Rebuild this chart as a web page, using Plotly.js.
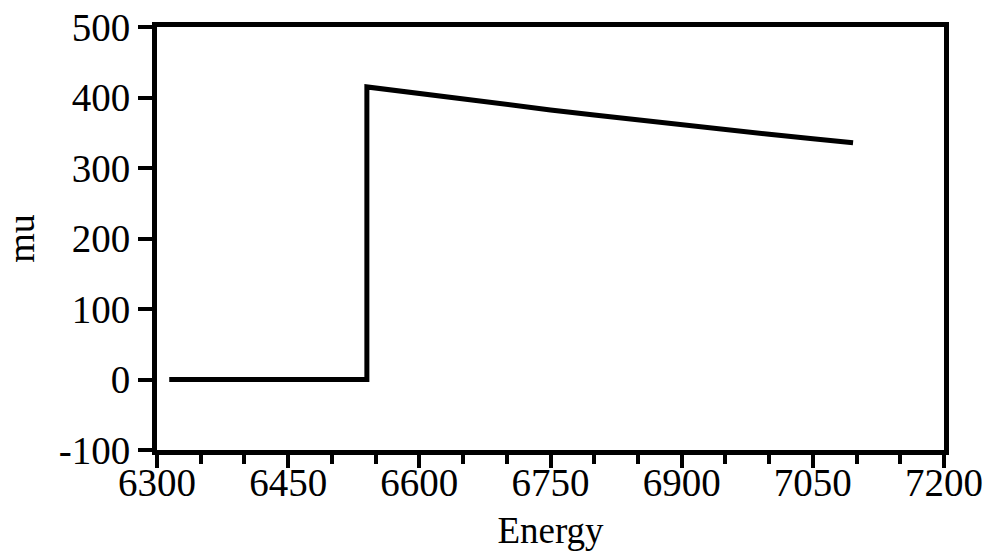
<!DOCTYPE html>
<html>
<head>
<meta charset="utf-8">
<script src="https://cdn.plot.ly/plotly-3.0.1.min.js"></script>
<style>html,body{margin:0;padding:0;background:#fff;}#chart{width:1002px;height:551px;}</style>
</head>
<body>
<div id="chart"></div>
<script>
// Energy (eV) and mu values
const energy = [6314, 6540, 6540, 6600, 6650, 6700, 6750, 6800, 6850, 6900, 6950, 7000, 7050, 7096];
const mu     = [0,    0,    415,  405.2, 397.4, 389.8, 382.4, 375.1, 368.0, 361.1, 354.4, 347.9, 341.5, 335.7];

const xTicks = [6300, 6450, 6600, 6750, 6900, 7050, 7200];
const yTicks = [-100, 0, 100, 200, 300, 400, 500];

const FAM = 'Liberation Serif';
function f(size) { return {family: FAM, size: size, color: '#000'}; }

const trace = {
  x: energy, y: mu, type: 'scatter', mode: 'lines',
  line: {color: '#000', width: 5, shape: 'linear'},
  hoverinfo: 'skip', showlegend: false
};

const layout = {
  width: 1002, height: 551,
  margin: {l: 157, r: 58, t: 27, b: 101},
  paper_bgcolor: '#fff', plot_bgcolor: '#fff',
  font: f(38),
  showlegend: false,
  xaxis: {
    range: [6300, 7200], tickmode: 'array', tickvals: xTicks,
    ticktext: xTicks.map(String),
    ticks: 'outside', ticklen: 13, tickwidth: 4, tickcolor: '#000',
    ticklabelstandoff: -19,
    minor: {dtick: 50, tick0: 6300, ticks: 'outside', ticklen: 9, tickwidth: 4, tickcolor: '#000'},
    showline: true, linewidth: 5, linecolor: '#000', mirror: true,
    showgrid: false, zeroline: false,
    tickfont: f(39),
    title: {text: 'Energy', font: f(37), standoff: 24},
    automargin: false
  },
  yaxis: {
    range: [-100, 500], tickmode: 'array', tickvals: yTicks,
    ticktext: yTicks.map(String),
    ticks: 'outside', ticklen: 14, tickwidth: 4, tickcolor: '#000',
    showline: true, linewidth: 5, linecolor: '#000', mirror: true,
    showgrid: false, zeroline: false,
    tickfont: f(39),
    title: {text: 'mu', font: f(38), standoff: 14},
    automargin: false
  }
};

Plotly.newPlot('chart', [trace], layout, {staticPlot: true, displayModeBar: false});
</script>
</body>
</html>
